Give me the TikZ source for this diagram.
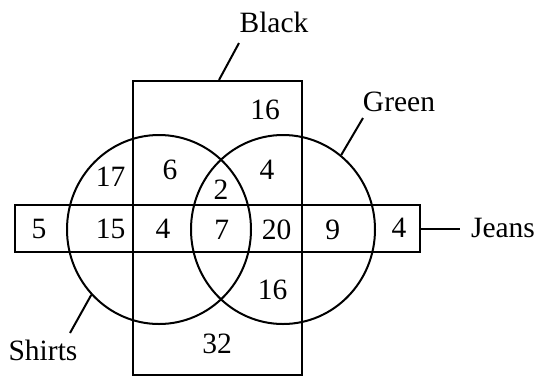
\documentclass[tikz,border=0pt]{standalone}
\usepackage{fontspec}
\setmainfont{Liberation Serif}
\usetikzlibrary{shapes.geometric}
\begin{document}
\begin{tikzpicture}[x=1pt,y=-1pt,
  every node/.style={font=\fontsize{29.5}{32}\selectfont, inner sep=0pt},
  setline/.style={line width=2pt, black},
  rectset/.style={draw, setline, rectangle, minimum width=#1},
  ringset/.style={draw, setline, ellipse, minimum width=184pt, minimum height=189pt},
  lead/.style={setline}]
\useasboundingbox (0,0) rectangle (541,376);
% sets
\node[rectset=169pt, minimum height=294pt] (black) at (217.5,228) {};
\node[rectset=405pt, minimum height=47pt] (jeans) at (217.5,228.5) {};
\node[ringset] (shirts) at (159,229.5) {};
\node[ringset] (green) at (283,229.5) {};
% labels
\node (lblack) at (274,22) {Black};
\node (lgreen) at (399,102) {Green};
\node (lshirts) at (43,350) {Shirts};
\node (ljeans) at (503,228) {Jeans};
% leader ends
\coordinate (bk) at (239,43);
\coordinate (gk) at (363,118);
\coordinate (sk) at (70,333);
\coordinate (jk) at (460,228.5);
\draw[lead] (black.north) ++(1.5,0) -- (bk);
\draw[lead] (green.52) -- (gk);
\draw[lead] (shirts.224) -- (sk);
\draw[lead] (jeans.east) -- (jk);
% numbers
\node (n16a) at (265,110) {16};
\node (n17) at (110.7,177) {17};
\node (n6) at (170,170) {6};
\node (n4a) at (267,170) {4};
\node (n2) at (221,190) {2};
\node (n5) at (39,229) {5};
\node (n15) at (110.7,229) {15};
\node (n4b) at (163,229) {4};
\node (n7) at (221.7,230) {7};
\node (n20) at (276.7,230) {20};
\node (n9) at (332.7,230) {9};
\node (n4c) at (399,228) {4};
\node (n16b) at (272.7,290) {16};
\node (n32) at (217,344) {32};
\end{tikzpicture}
\end{document}
